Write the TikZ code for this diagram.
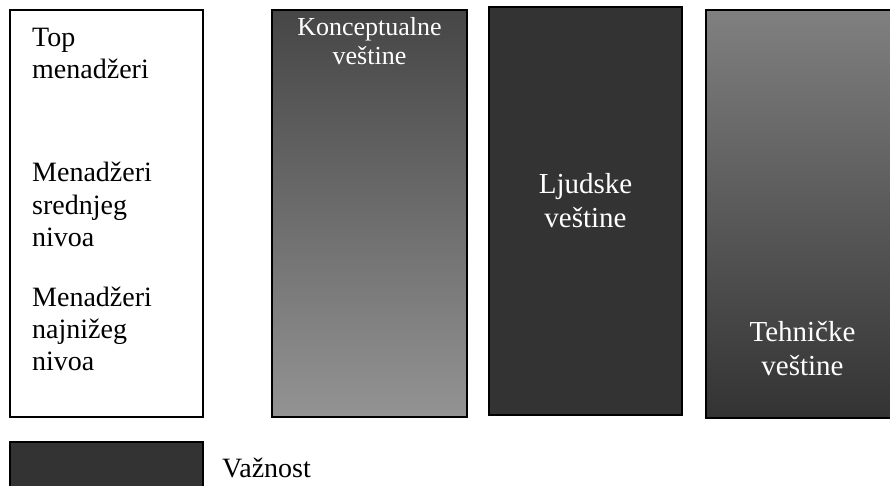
\documentclass[tikz,border=0pt]{standalone}
\usepackage{fontspec}
\setmainfont{Liberation Serif}
\definecolor{skilldark}{RGB}{51,51,51}
\definecolor{skillgrey}{RGB}{128,128,128}
\definecolor{skilllight}{RGB}{147,147,147}
\definecolor{skilltop}{RGB}{70,70,70}

\begin{document}
\begin{tikzpicture}[x=1pt,y=1pt,
    frame/.style={draw=black, line width=1.3pt},
    level/.style={anchor=base west, align=left, inner sep=0pt, font=\fontsize{28}{32}\selectfont},
    skill/.style={anchor=base, align=center, inner sep=0pt, text=white}]
    \useasboundingbox (0,0) rectangle (890,485);
    \clip (0,0) rectangle (890,485);

    % levels of management
    \draw[frame, fill=white] (10,68) rectangle (203,475);
    \node[level] (top) at (32,406) {Top\\menadžeri};
    \node[level] (mid) at (32,239) {Menadžeri\\srednjeg\\nivoa};
    \node[level] (low) at (32,115) {Menadžeri\\najnižeg\\nivoa};

    % skills
    \shadedraw[frame, top color=skilltop, bottom color=skilllight] (272,68) rectangle (467,475);
    \fill[skilldark] (489,70) rectangle (682,478);
    \draw[frame] (489,70) rectangle (682,478);
    \shadedraw[frame, top color=skillgrey, bottom color=skilldark] (706,67) rectangle (899,475);

    \node[skill, font=\fontsize{26}{29}\selectfont] (konc) at (369.5,420) {Konceptualne\\veštine};
    \node[skill, font=\fontsize{29}{34}\selectfont] (ljud) at (585.5,258) {Ljudske\\veštine};
    \node[skill, font=\fontsize{29}{34}\selectfont] (tehn) at (802.5,110) {Tehničke\\veštine};

    % legend
    \draw[frame, fill=skilldark] (10,-10) rectangle (203,43);
    \node[level] (vaz) at (222,8) {Važnost};
\end{tikzpicture}
\end{document}
